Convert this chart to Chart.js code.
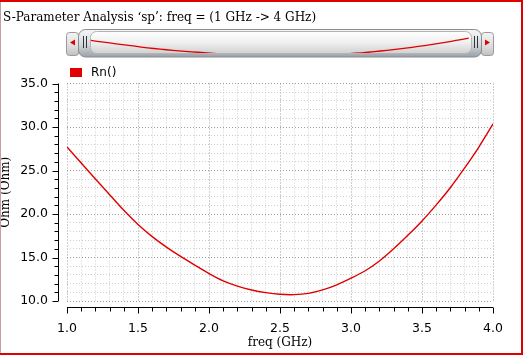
<!DOCTYPE html>
<html>
<head>
<meta charset="utf-8">
<script src="https://cdn.jsdelivr.net/npm/chart.js@4/dist/chart.umd.min.js"></script>
<style>
html, body { margin: 0; padding: 0; background: #fff; }
canvas { display: block; }
</style>
</head>
<body>
<canvas id="grafico" width="523" height="355"></canvas>
<script>
// datos
const tituloGrafico = 'S-Parameter Analysis \u2018sp\u2019: freq = (1 GHz -> 4 GHz)';
const etiquetaSerie = 'Rn()';
const frecuencias = [1.0, 1.1, 1.2, 1.3, 1.4, 1.5, 1.6, 1.7, 1.8, 1.9, 2.0,
  2.1, 2.2, 2.3, 2.4, 2.5, 2.6, 2.7, 2.8, 2.9, 3.0,
  3.1, 3.2, 3.3, 3.4, 3.5, 3.6, 3.7, 3.8, 3.9, 4.0];
const rnOhm = [27.7, 25.87, 24.03, 22.22, 20.42, 18.8, 17.4, 16.2, 15.12, 14.12, 13.15,
  12.32, 11.71, 11.27, 10.96, 10.77, 10.73, 10.88, 11.27, 11.85, 12.62,
  13.48, 14.6, 16.0, 17.55, 19.2, 21.05, 23.05, 25.3, 27.7, 30.35];
const tituloEjeX = 'freq (GHz)';
const tituloEjeY = 'Ohm (Ohm)';

const rojo = '#e00000';
const fuenteSerif = '"DejaVu Serif", serif';
const fuenteSans = '"DejaVu Sans", sans-serif';

function caja(ctx, x, y, w, h, r) {
  ctx.beginPath();
  ctx.moveTo(x + r, y);
  ctx.arcTo(x + w, y, x + w, y + h, r);
  ctx.arcTo(x + w, y + h, x, y + h, r);
  ctx.arcTo(x, y + h, x, y, r);
  ctx.arcTo(x, y, x + w, y, r);
  ctx.closePath();
}

function degradado(ctx, y0, y1, paradas) {
  const g = ctx.createLinearGradient(0, y0, 0, y1);
  paradas.forEach(p => g.addColorStop(p[0], p[1]));
  return g;
}

// fondo, titulo y barra de desplazamiento
const decorado = {
  id: 'decorado',
  beforeDraw(chart) {
    const ctx = chart.ctx;
    ctx.save();
    ctx.fillStyle = '#fff';
    ctx.fillRect(0, 0, chart.width, chart.height);

    ctx.fillStyle = '#000';
    ctx.font = '12px ' + fuenteSerif;
    ctx.textBaseline = 'alphabetic';
    ctx.textAlign = 'left';
    ctx.fillText(tituloGrafico, 3, 21);

    // botones laterales
    ctx.fillStyle = degradado(ctx, 32, 56, [[0, '#f4f4f4'], [0.6, '#dedede'], [1, '#bdbdbd']]);
    ctx.strokeStyle = '#999';
    ctx.lineWidth = 1;
    caja(ctx, 66.5, 32.5, 12, 23, 3);
    ctx.fill();
    ctx.stroke();
    caja(ctx, 481.5, 32.5, 12, 23, 3);
    ctx.fill();
    ctx.stroke();

    // barra exterior
    caja(ctx, 78.5, 29.5, 403, 27.5, 7);
    ctx.fillStyle = degradado(ctx, 29, 57, [[0, '#f6f6f6'], [0.55, '#d6d9dc'], [1, '#98a1aa']]);
    ctx.fill();
    ctx.strokeStyle = '#8c8c8c';
    ctx.stroke();

    // pista interior
    caja(ctx, 90.5, 31.5, 381, 22, 6);
    ctx.fillStyle = degradado(ctx, 31, 54, [[0, '#ffffff'], [0.5, '#f0f0f0'], [1, '#cfcfcf']]);
    ctx.fill();
    ctx.strokeStyle = '#b4b4b4';
    ctx.stroke();

    // agarres
    ctx.strokeStyle = '#333';
    [83.5, 86.5, 474.5, 477.5].forEach(x => {
      ctx.beginPath();
      ctx.moveTo(x, 36);
      ctx.lineTo(x, 48);
      ctx.stroke();
    });

    // flechas
    ctx.fillStyle = rojo;
    ctx.beginPath();
    ctx.moveTo(70, 42.5); ctx.lineTo(75, 39.5); ctx.lineTo(75, 45.5);
    ctx.closePath(); ctx.fill();
    ctx.beginPath();
    ctx.moveTo(490, 42.5); ctx.lineTo(485, 39.5); ctx.lineTo(485, 45.5);
    ctx.closePath(); ctx.fill();
    ctx.restore();
  },
  afterDraw(chart) {
    const ctx = chart.ctx;
    const area = chart.chartArea;
    const sx = chart.scales.x, sy = chart.scales.y;
    ctx.save();
    ctx.strokeStyle = '#000';
    ctx.lineWidth = 1;

    // eje Y desplazado
    const ejeX = Math.round(area.left - 9) + 0.5;
    ctx.beginPath();
    ctx.moveTo(ejeX, area.top);
    ctx.lineTo(ejeX, area.bottom);
    for (let v = 10; v <= 35; v++) {
      const y = Math.round(sy.getPixelForValue(v)) + 0.5;
      ctx.moveTo(ejeX, y);
      ctx.lineTo(ejeX - (v % 5 === 0 ? 6 : 4), y);
    }
    ctx.stroke();

    // eje X desplazado
    const ejeY = Math.round(area.bottom + 6) + 0.5;
    ctx.beginPath();
    ctx.moveTo(area.left, ejeY);
    ctx.lineTo(area.right, ejeY);
    for (let i = 10; i <= 40; i++) {
      const x = Math.round(sx.getPixelForValue(i / 10)) + 0.5;
      ctx.moveTo(x, ejeY);
      ctx.lineTo(x, ejeY + (i % 5 === 0 ? 6 : 4));
    }
    ctx.stroke();

    // leyenda
    const ds = chart.data.datasets[0];
    ctx.fillStyle = ds.borderColor;
    ctx.fillRect(70, 68, 12, 9);
    ctx.fillStyle = '#000';
    ctx.font = '12px ' + fuenteSans;
    ctx.textBaseline = 'middle';
    ctx.fillText(ds.label, 91, 73);

    // marco
    ctx.fillStyle = rojo;
    ctx.fillRect(0, 0, chart.width, 2);
    ctx.fillRect(chart.width - 2, 0, 2, chart.height);
    ctx.fillRect(0, chart.height - 2, chart.width, 2);
    ctx.fillStyle = '#c4a0a0';
    ctx.fillRect(0, 2, 1, chart.height - 4);
    ctx.restore();
  }
};

const esMayor = (v, paso) => Math.abs(Math.round(v / paso) * paso - v) < 1e-6;

new Chart(document.getElementById('grafico').getContext('2d'), {
  type: 'line',
  data: {
    datasets: [{
      label: etiquetaSerie,
      data: frecuencias.map((f, i) => ({ x: f, y: rnOhm[i] })),
      borderColor: rojo,
      borderWidth: 1.4,
      pointRadius: 0,
      tension: 0.3,
      fill: false
    }, {
      // miniatura en la barra superior
      label: 'mini',
      data: frecuencias.map((f, i) => ({ x: f, y: rnOhm[i] })),
      xAxisID: 'x2',
      yAxisID: 'y2',
      borderColor: rojo,
      borderWidth: 1.3,
      pointRadius: 0,
      tension: 0.3,
      fill: false,
      clip: { left: false, right: false, top: false, bottom: -248 }
    }]
  },
  options: {
    responsive: false,
    animation: false,
    devicePixelRatio: 1,
    layout: { padding: { left: 0, top: 83.5, right: 27.5, bottom: 0 } },
    plugins: {
      legend: { display: false },
      tooltip: { enabled: false }
    },
    scales: {
      x: {
        type: 'linear',
        min: 1, max: 4,
        afterFit: s => { s.height = 54; },
        border: { display: false, dash: [1, 2] },
        grid: {
          drawTicks: false,
          color: c => esMayor(c.tick.value, 0.5) ? '#9c9c9c' : '#cdcdcd'
        },
        ticks: {
          stepSize: 0.1,
          autoSkip: false,
          maxRotation: 0,
          padding: 20,
          color: '#000',
          font: { family: fuenteSans, size: 12.5 },
          callback: v => esMayor(v, 0.5) ? Number(v).toFixed(1) : ''
        },
        title: {
          display: true,
          text: tituloEjeX,
          color: '#000',
          font: { family: fuenteSerif, size: 12, lineHeight: 1 },
          padding: { top: 0, bottom: 6 }
        }
      },
      y: {
        min: 10, max: 35,
        afterFit: s => { s.width = 67; },
        border: { display: false, dash: [1, 2] },
        grid: {
          drawTicks: false,
          color: c => esMayor(c.tick.value, 5) ? '#9c9c9c' : '#cdcdcd'
        },
        ticks: {
          stepSize: 1,
          autoSkip: false,
          padding: 19,
          color: '#000',
          font: { family: fuenteSans, size: 12.5 },
          callback: v => esMayor(v, 5) ? Number(v).toFixed(1) : ''
        },
        title: {
          display: true,
          text: tituloEjeY,
          color: '#000',
          font: { family: fuenteSerif, size: 12, lineHeight: 1 },
          padding: { top: 0, bottom: 0 }
        }
      },
      x2: { type: 'linear', display: false, min: 0.8105, max: 4.1935 },
      y2: { display: false, min: -261.7, max: -20.1 }
    }
  },
  plugins: [decorado]
});
</script>
</body>
</html>
